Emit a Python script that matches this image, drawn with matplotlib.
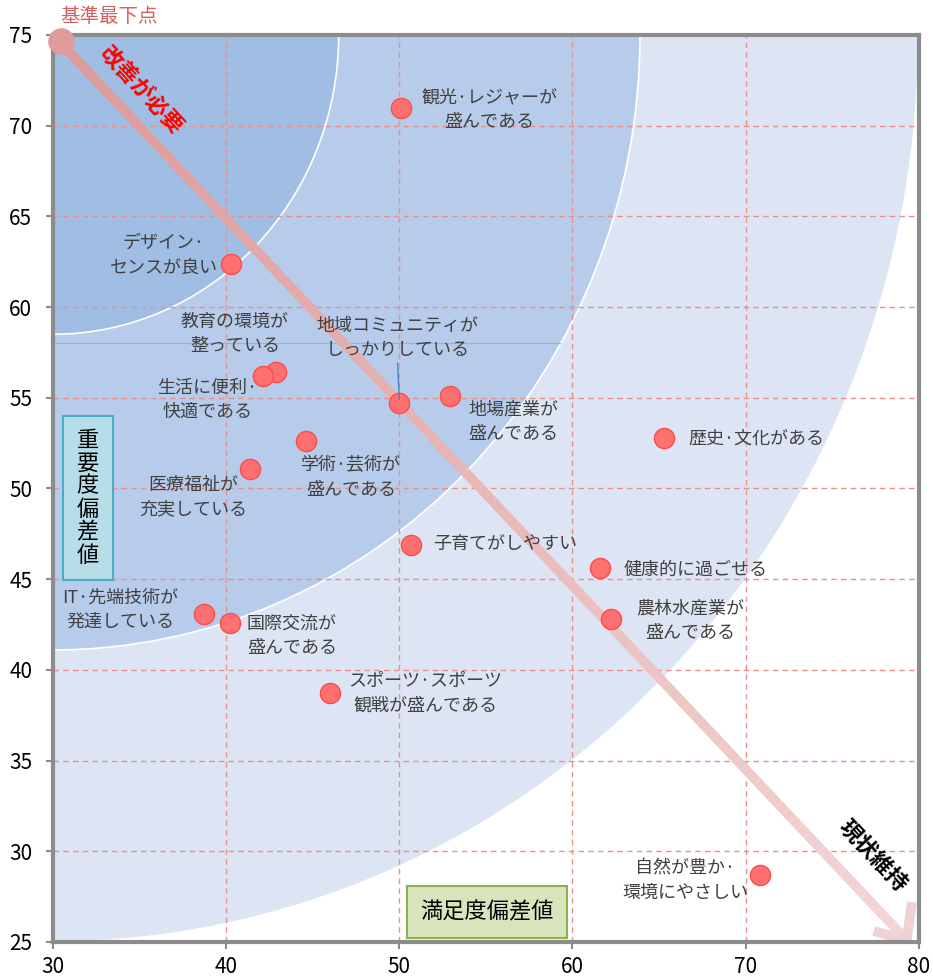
import numpy as np
import matplotlib.pyplot as plt
from matplotlib.patches import Ellipse, Rectangle
from matplotlib.collections import LineCollection

plt.rcParams['font.family'] = ['Noto Sans CJK JP', 'DejaVu Sans']

# satisfaction (x) / importance (y) deviation values
names = ['観光·レジャーが\n盛んである', 'デザイン·\nセンスが良い', '教育の環境が\n整っている',
         '生活に便利·\n快適である', '地域コミュニティが\nしっかりしている', '地場産業が\n盛んである',
         '学術·芸術が\n盛んである', '医療福祉が\n充実している', '歴史·文化がある',
         '子育てがしやすい', '健康的に過ごせる', '農林水産業が\n盛んである',
         'IT·先端技術が\n発達している', '国際交流が\n盛んである', 'スポーツ·スポーツ\n観戦が盛んである',
         '自然が豊か·\n環境にやさしい']
sat = [50.1, 40.3, 42.9, 42.1, 50.0, 52.9, 44.6, 41.4, 65.3, 50.7, 61.6, 62.2, 38.7, 40.2, 46.0, 70.8]
imp = [71.0, 62.4, 56.4, 56.2, 54.7, 55.1, 52.6, 51.1, 52.8, 46.9, 45.6, 42.8, 43.1, 42.6, 38.7, 28.7]
# label centres
lab_x = [55.2, 36.4, 40.5, 38.9, 49.9, 56.6, 47.2, 38.1, 70.6, 56.1, 67.1, 66.8, 33.9, 43.8, 51.5, 66.5]
lab_y = [70.9, 62.85, 58.5, 54.9, 58.3, 53.65, 50.6, 49.5, 52.75, 46.95, 45.5, 42.7, 43.3, 41.9, 38.7, 28.4]

base_pt = (30.45, 74.65)
rings = [50, 33.9, 16.5]
ring_cols = ['#dde5f4', '#b7cbea', '#a0bde4']
xticks = [30, 40, 50, 60, 70, 80]
yticks = [25, 30, 35, 40, 45, 50, 55, 60, 65, 70, 75]

fig = plt.figure(figsize=(9.33, 9.8), dpi=100)
ax = fig.add_axes([0.0568, 0.0388, 0.928, 0.9255])
ax.set_xlim(30, 80)
ax.set_ylim(25, 75)

for r, c in zip(rings, ring_cols):
    ax.add_patch(Ellipse((30, 75), 2 * r, 2 * r, facecolor=c, edgecolor='white', lw=1.2, zorder=0))

ax.set_xticks(xticks)
ax.set_yticks(yticks)
ax.grid(True, ls=(0, (4, 3)), color='#e8908a', lw=1)
ax.set_axisbelow(True)
for s in ax.spines.values():
    s.set_color('#8c8c8c')
    s.set_linewidth(3)
ax.tick_params(labelsize=15, length=5, color='#8c8c8c', width=1.5)
ax.tick_params(axis='x', pad=5)
ax.tick_params(axis='y', pad=10)

# thin guide line
ax.plot([30, 59.3], [58.0, 58.0], color='#8fb4e3', lw=0.8, zorder=1)

# diagonal arrow with gradient
t = np.linspace(0, 1, 120)
ax_x = 30.4 + (79.3 - 30.4) * t
ax_y = 74.6 + (25.1 - 74.6) * t
pts = np.column_stack([ax_x, ax_y]).reshape(-1, 1, 2)
segs = np.concatenate([pts[:-1], pts[1:]], axis=1)
c0 = np.array([0.87, 0.60, 0.60])
c1 = np.array([0.95, 0.84, 0.84])
cols = [c0 + (c1 - c0) * v for v in t[:-1]]
ax.add_collection(LineCollection(segs, colors=cols, lw=7, zorder=2, capstyle='butt'))
ax.plot([77.4, 79.3, 79.6], [25.6, 25.1, 27.2], color='#f0d2d2', lw=7, zorder=2,
        solid_joinstyle='miter', solid_capstyle='butt')

ax.scatter([base_pt[0]], [base_pt[1]], s=330, color='#dd9b9b', zorder=3, clip_on=False)
ax.scatter(sat, imp, s=210, color='#ff7070', edgecolor='#ff4a4a', lw=1, zorder=4)

for n, lx, ly in zip(names, lab_x, lab_y):
    ax.text(lx, ly, n, ha='center', va='center', fontsize=13, color='#404040',
            linespacing=1.45, zorder=5)

# leader line for community label
ax.plot([49.9, 50.0], [56.9, 54.9], color='#4f7fbf', lw=1, zorder=5)

ax.text(30.4, 76.0, '基準最下点', fontsize=14, color='#d4605c', ha='left', va='center',
        clip_on=False)
ax.text(35.1, 71.9, '改善が必要', fontsize=16, color='red', fontweight='bold',
        rotation=-47, ha='center', va='center', zorder=5)
ax.text(77.3, 29.7, '現状維持', fontsize=16, color='black', fontweight='bold',
        rotation=-47, ha='center', va='center', zorder=5)

ax.add_patch(Rectangle((30.58, 44.96), 2.88, 9.04, fc='#b7dde8', ec='#4bacc6', lw=1.5, zorder=6))
ax.text(32.0, 49.5, '重\n要\n度\n偏\n差\n値', fontsize=16, ha='center', va='center',
        linespacing=1.0, zorder=7)
ax.add_patch(Rectangle((50.44, 25.22), 9.24, 2.87, fc='#d7e4bc', ec='#8db14c', lw=1.5, zorder=6))
ax.text(55.06, 26.65, '満足度偏差値', fontsize=16, ha='center', va='center', zorder=7)

fig.savefig('out.png', dpi=100)
